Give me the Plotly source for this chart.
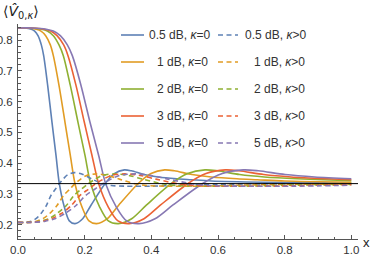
import plotly.graph_objects as go

# ---------------- data ----------------
labels_db = ["0.5 dB", "1 dB", "2 dB", "3 dB", "5 dB"]
colors = ["#5E81B5", "#E19C24", "#8FB032", "#EB6235", "#8778B3"]
limit_value = 1 / 3

# kappa = 0 (solid)
x_k0_05 = [0, 0.02, 0.04, 0.05, 0.06, 0.07, 0.077, 0.089, 0.102, 0.114, 0.124, 0.139, 0.154, 0.171, 0.194, 0.219, 0.261, 0.289, 0.319, 0.34, 0.378, 0.42, 0.476, 0.52, 0.58, 0.735, 1.0]
y_k0_05 = [0.840, 0.840, 0.836, 0.830, 0.815, 0.785, 0.750, 0.653, 0.533, 0.425, 0.333, 0.257, 0.212, 0.203, 0.219, 0.263, 0.333, 0.366, 0.378, 0.375, 0.363, 0.355, 0.349, 0.346, 0.342, 0.338, 0.335]

x_k0_1 = [0, 0.028, 0.055, 0.069, 0.083, 0.097, 0.106, 0.123, 0.141, 0.157, 0.171, 0.192, 0.213, 0.236, 0.268, 0.302, 0.360, 0.399, 0.440, 0.469, 0.522, 0.580, 0.657, 0.718, 0.800, 1.0]
y_k0_1 = [0.840, 0.840, 0.836, 0.830, 0.815, 0.785, 0.750, 0.653, 0.533, 0.425, 0.333, 0.257, 0.212, 0.203, 0.219, 0.263, 0.333, 0.366, 0.378, 0.375, 0.363, 0.355, 0.349, 0.346, 0.342, 0.338]

x_k0_2 = [0, 0.035, 0.070, 0.088, 0.106, 0.123, 0.136, 0.157, 0.180, 0.201, 0.218, 0.245, 0.271, 0.301, 0.341, 0.385, 0.459, 0.509, 0.561, 0.598, 0.665, 0.739, 0.838, 0.915, 1.0]
y_k0_2 = [0.840, 0.840, 0.836, 0.830, 0.815, 0.785, 0.750, 0.653, 0.533, 0.425, 0.333, 0.257, 0.212, 0.203, 0.219, 0.263, 0.333, 0.366, 0.378, 0.375, 0.363, 0.355, 0.349, 0.346, 0.343]

x_k0_3 = [0, 0.039, 0.078, 0.098, 0.117, 0.137, 0.150, 0.174, 0.199, 0.222, 0.242, 0.271, 0.300, 0.333, 0.378, 0.427, 0.509, 0.564, 0.622, 0.663, 0.737, 0.819, 0.928, 1.0]
y_k0_3 = [0.840, 0.840, 0.836, 0.830, 0.815, 0.785, 0.750, 0.653, 0.533, 0.425, 0.333, 0.257, 0.212, 0.203, 0.219, 0.263, 0.333, 0.366, 0.378, 0.375, 0.363, 0.355, 0.349, 0.346]

x_k0_5 = [0, 0.042, 0.085, 0.106, 0.127, 0.148, 0.163, 0.189, 0.216, 0.242, 0.263, 0.295, 0.326, 0.363, 0.411, 0.464, 0.553, 0.613, 0.676, 0.721, 0.801, 0.890, 1.0]
y_k0_5 = [0.840, 0.840, 0.836, 0.830, 0.815, 0.785, 0.750, 0.653, 0.533, 0.425, 0.333, 0.257, 0.212, 0.203, 0.219, 0.263, 0.333, 0.366, 0.378, 0.375, 0.363, 0.355, 0.349]

# kappa > 0 (dashed)
x_kp_05 = [0, 0.02, 0.04, 0.055, 0.069, 0.085, 0.099, 0.112, 0.124, 0.137, 0.149, 0.17, 0.195, 0.22, 0.254, 0.28, 0.32, 0.40, 0.476, 0.6, 0.8, 1.0]
y_kp_05 = [0.207, 0.207, 0.211, 0.220, 0.236, 0.262, 0.295, 0.315, 0.333, 0.350, 0.362, 0.369, 0.363, 0.349, 0.333, 0.327, 0.325, 0.325, 0.328, 0.331, 0.333, 0.333]

x_kp_1 = [0, 0.028, 0.055, 0.076, 0.095, 0.117, 0.137, 0.155, 0.171, 0.189, 0.206, 0.235, 0.269, 0.304, 0.351, 0.386, 0.442, 0.552, 0.657, 0.828, 1.0]
y_kp_1 = [0.207, 0.207, 0.211, 0.220, 0.236, 0.262, 0.295, 0.315, 0.333, 0.349, 0.360, 0.365, 0.360, 0.348, 0.333, 0.327, 0.325, 0.325, 0.328, 0.331, 0.332]

x_kp_2 = [0, 0.034, 0.068, 0.094, 0.117, 0.145, 0.168, 0.190, 0.211, 0.233, 0.253, 0.289, 0.332, 0.374, 0.432, 0.476, 0.544, 0.680, 0.809, 1.0]
y_kp_2 = [0.207, 0.207, 0.211, 0.220, 0.236, 0.262, 0.295, 0.315, 0.333, 0.349, 0.360, 0.365, 0.360, 0.348, 0.333, 0.327, 0.325, 0.325, 0.328, 0.331]

x_kp_3 = [0, 0.038, 0.075, 0.103, 0.130, 0.160, 0.186, 0.211, 0.233, 0.258, 0.280, 0.320, 0.367, 0.414, 0.478, 0.526, 0.602, 0.752, 0.895, 1.0]
y_kp_3 = [0.207, 0.207, 0.211, 0.220, 0.236, 0.262, 0.295, 0.315, 0.333, 0.349, 0.360, 0.365, 0.360, 0.348, 0.333, 0.327, 0.325, 0.325, 0.328, 0.3295]

x_kp_5 = [0, 0.041, 0.082, 0.113, 0.141, 0.174, 0.203, 0.230, 0.254, 0.281, 0.305, 0.349, 0.400, 0.451, 0.521, 0.574, 0.656, 0.820, 1.0]
y_kp_5 = [0.207, 0.207, 0.211, 0.220, 0.236, 0.262, 0.295, 0.315, 0.333, 0.349, 0.360, 0.365, 0.360, 0.348, 0.333, 0.327, 0.325, 0.325, 0.328]

solid_x = [x_k0_05, x_k0_1, x_k0_2, x_k0_3, x_k0_5]
solid_y = [y_k0_05, y_k0_1, y_k0_2, y_k0_3, y_k0_5]
dash_x = [x_kp_05, x_kp_1, x_kp_2, x_kp_3, x_kp_5]
dash_y = [y_kp_05, y_kp_1, y_kp_2, y_kp_3, y_kp_5]

x_range = [0, 1.02]
y_range = [0.153, 0.853]

# ---------------- layout geometry (pixels) ----------------
W, H = 374, 257
ML, MR, MT, MB = 18, 16, 24, 18
PW, PH = W - ML - MR, H - MT - MB


def px(xp):
    return (xp - ML) / PW


def py(yp):
    return (H - MB - yp) / PH


DASH = "5px,3.5px"
LW = 1.6

# ---------------- figure ----------------
fig = go.Figure()

for i, lab in enumerate(labels_db):
    fig.add_trace(go.Scatter(
        x=solid_x[i], y=solid_y[i], mode="lines", showlegend=False,
        line=dict(color=colors[i], width=LW, shape="spline", smoothing=0.8),
        name=lab + ", κ=0",
    ))
for i, lab in enumerate(labels_db):
    fig.add_trace(go.Scatter(
        x=dash_x[i], y=dash_y[i], mode="lines", showlegend=False,
        line=dict(color=colors[i], width=LW, dash=DASH, shape="spline", smoothing=0.8),
        name=lab + ", κ>0",
    ))

fig.add_hline(y=limit_value, line=dict(color="black", width=1))

# legend (two columns, drawn as key lines + labels)
row_y = [35, 62, 89, 116, 143]
legend_font = dict(family="Liberation Sans, Arial, sans-serif", size=12, color="#333")
annotations = []
for i, lab in enumerate(labels_db):
    yy = py(row_y[i])
    fig.add_shape(type="line", xref="paper", yref="paper", x0=px(121), x1=px(144), y0=yy, y1=yy,
                  line=dict(color=colors[i], width=LW))
    fig.add_shape(type="line", xref="paper", yref="paper", x0=px(218), x1=px(238), y0=yy, y1=yy,
                  line=dict(color=colors[i], width=LW, dash=DASH))
    first = (i == 0)
    annotations.append(dict(text=lab + ", <i>κ</i>=0", xref="paper", yref="paper",
                            x=px(147 if first else 154.5), y=yy, xanchor="left", yanchor="middle",
                            showarrow=False, font=legend_font))
    annotations.append(dict(text=lab + ", <i>κ</i>>0", xref="paper", yref="paper",
                            x=px(242.5 if first else 252), y=yy, xanchor="left", yanchor="middle",
                            showarrow=False, font=legend_font))

annotations.append(dict(text="⟨<i>V̂</i><sub>0,<i>κ</i></sub>⟩", xref="paper", yref="paper",
                        x=px(1), y=py(12), xanchor="left", yanchor="middle", showarrow=False,
                        font=dict(family="DejaVu Sans, Liberation Sans, sans-serif", size=14, color="#222")))
annotations.append(dict(text="x", xref="paper", yref="paper", x=px(367), y=py(242),
                        xanchor="center", yanchor="middle", showarrow=False,
                        font=dict(family="Liberation Sans, Arial, sans-serif", size=13, color="#222")))

axis_common = dict(
    automargin=False,
    showgrid=False, zeroline=False, showline=True, linecolor="#555", linewidth=1,
    ticks="inside", ticklen=4, tickcolor="#555", tickwidth=1,
    tickfont=dict(family="Liberation Sans, Arial, sans-serif", size=11.5, color="#333"),
)

fig.update_xaxes(range=x_range, tick0=0, dtick=0.2, tickformat=".1f", ticklabelstandoff=0,
                 minor=dict(ticks="inside", ticklen=2.5, dtick=0.05, tickcolor="#555"),
                 **axis_common)
fig.update_yaxes(range=y_range, tick0=0, dtick=0.1, tickformat=".1f", ticklabelstandoff=2,
                 minor=dict(ticks="inside", ticklen=2.5, dtick=0.02, tickcolor="#555"),
                 **axis_common)

fig.update_layout(
    width=W, height=H,
    margin=dict(l=ML, r=MR, t=MT, b=MB, autoexpand=False),
    plot_bgcolor="white", paper_bgcolor="white",
    showlegend=False,
    annotations=annotations,
)

fig.write_html("out.html", config={"displayModeBar": False},
               post_script="document.body.style.margin='0px';")
